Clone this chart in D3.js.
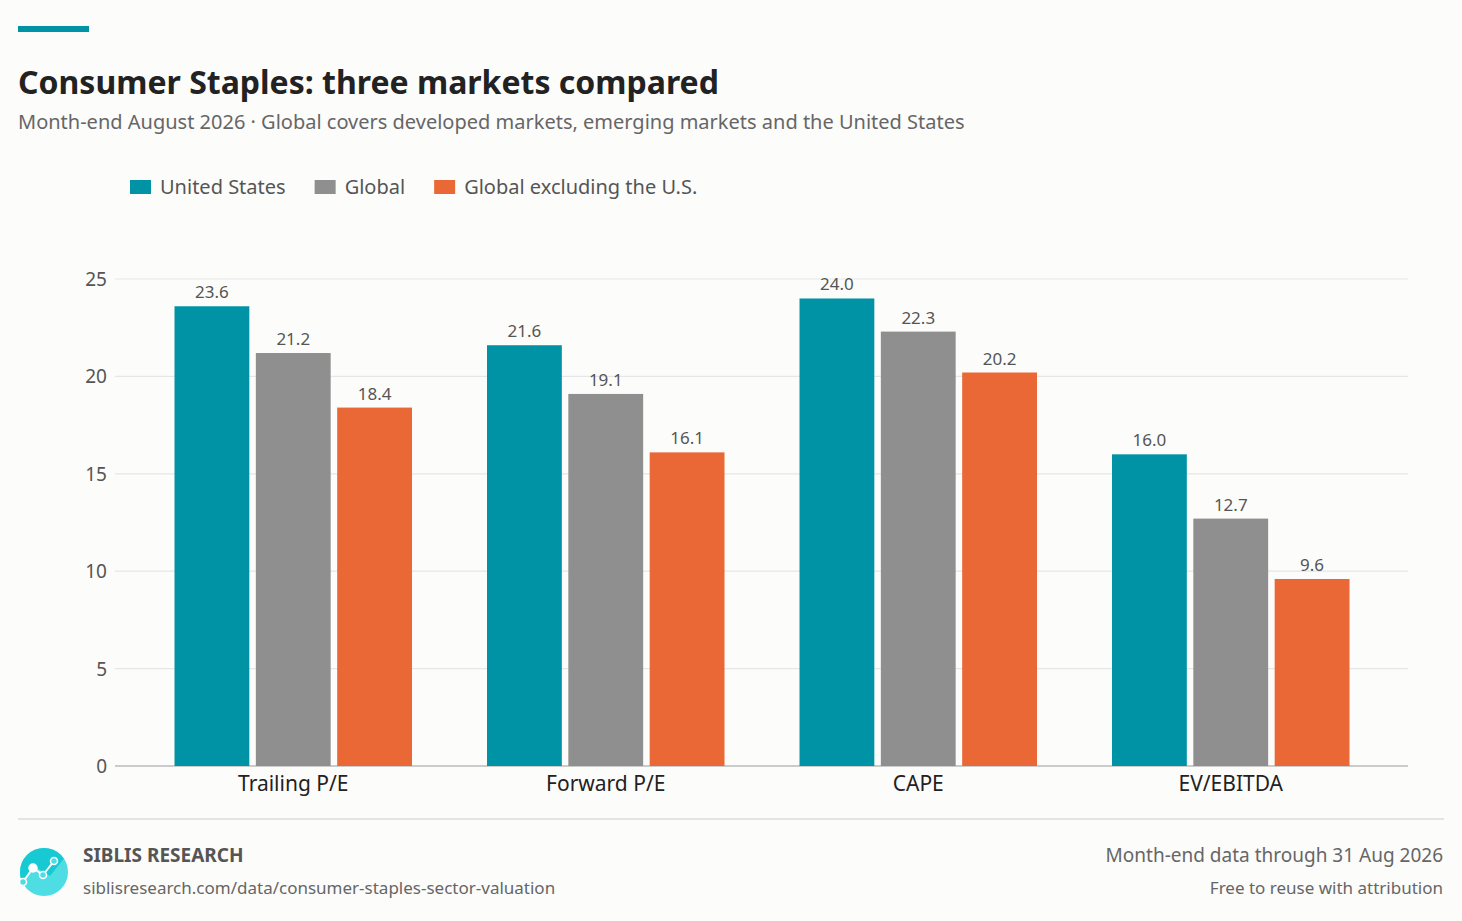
<!DOCTYPE html><html><head><meta charset="utf-8"><script src="https://cdn.jsdelivr.net/npm/d3@7"></script>
<style>body{margin:0;background:#fcfcfb;font-family:"Noto Sans",Roboto,sans-serif}</style></head><body><svg id="c" width="1462" height="921"></svg>
<script>
const categories=["Trailing P/E","Forward P/E","CAPE","EV/EBITDA"];
const seriesNames=["United States","Global","Global excluding the U.S."];
const usValues=[23.6,21.6,24.0,16.0];
const globalValues=[21.2,19.1,22.3,12.7];
const exUsValues=[18.4,16.1,20.2,9.6];
const yTicks=[0,5,10,15,20,25];
const colors=["#0093a6","#8f8f8f","#ea6835"];
const series=[usValues,globalValues,exUsValues];
const svg=d3.select("#c");
svg.append("rect").attr("width",1462).attr("height",921).attr("fill","#fcfcfb");
svg.append("rect").attr("x",18).attr("y",26).attr("width",71).attr("height",6).attr("fill","#0093a6");
svg.append("text").attr("x",18).attr("y",94).text("Consumer Staples: three markets compared").attr("font-size",32).attr("font-weight",700).attr("fill","#222");
svg.append("text").attr("x",18).attr("y",129).text("Month-end August 2026 · Global covers developed markets, emerging markets and the United States").attr("font-size",20).attr("fill","#666");
// legend
let lx=130;
seriesNames.forEach((n,i)=>{const g=svg.append("g");
g.append("rect").attr("x",lx).attr("y",180).attr("width",21).attr("height",14).attr("fill",colors[i]);
const t=g.append("text").attr("x",lx+30).attr("y",194).text(n).attr("font-size",20).attr("fill","#555");
lx+=30+t.node().getComputedTextLength()+29;});
const y=d3.scaleLinear().domain([0,25]).range([766,279]);
const x0=d3.scaleBand().domain(categories).range([137,1387]).paddingInner(0.24).paddingOuter(0.12);
const x1=d3.scaleBand().domain(d3.range(3)).range([0,x0.bandwidth()]).paddingInner(0.08);
const grid=svg.append("g");
yTicks.forEach(t=>{grid.append("line").attr("x1",115).attr("x2",1408).attr("y1",y(t)).attr("y2",y(t)).attr("stroke",t===0?"#bbb":"#e6e6e6").attr("stroke-width",t===0?1.5:1.2);
grid.append("text").attr("x",107).attr("y",y(t)+7).attr("text-anchor","end").text(t).attr("font-size",19).attr("fill","#555");});
categories.forEach((c,ci)=>{series.forEach((s,si)=>{const bx=x0(c)+x1(si);
svg.append("rect").attr("x",bx).attr("y",y(s[ci])).attr("width",x1.bandwidth()).attr("height",y(0)-y(s[ci])).attr("fill",colors[si]);
svg.append("text").attr("x",bx+x1.bandwidth()/2).attr("y",y(s[ci])-8).attr("text-anchor","middle").text(s[ci].toFixed(1)).attr("font-size",17).attr("fill","#555");});
svg.append("text").attr("x",x0(c)+x0.bandwidth()/2).attr("y",791).attr("text-anchor","middle").text(c).attr("font-size",21).attr("fill","#222");});
svg.append("line").attr("x1",18).attr("x2",1444).attr("y1",819).attr("y2",819).attr("stroke","#ddd").attr("stroke-width",1.5);
// logo
const lg=svg.append("g");
lg.append("clipPath").attr("id","cp").append("circle").attr("cx",44).attr("cy",872).attr("r",24);
lg.append("circle").attr("cx",44).attr("cy",872).attr("r",24).attr("fill","#4ddde3");
lg.append("path").attr("d","M14,885 L37,868 L50,876 L66,856 L66,840 L14,840Z").attr("fill","#17c9d2").attr("clip-path","url(#cp)");
const pts=[[23,882],[33,868],[43,875],[54,861]];
lg.append("path").attr("d",d3.line()(pts)).attr("stroke","#fff").attr("stroke-width",2).attr("fill","none");
pts.forEach((p,i)=>lg.append("circle").attr("cx",p[0]).attr("cy",p[1]).attr("r",i==1?4:3.5).attr("fill",i==1?"#fff":"#4ddde3").attr("stroke","#fff").attr("stroke-width",1.5));
svg.append("text").attr("x",83).attr("y",862).text("SIBLIS RESEARCH").attr("font-size",19).attr("font-weight",700).attr("fill","#555");
svg.append("text").attr("x",83).attr("y",894).text("siblisresearch.com/data/consumer-staples-sector-valuation").attr("font-size",17).attr("fill","#666");
svg.append("text").attr("x",1443).attr("y",862).attr("text-anchor","end").text("Month-end data through 31 Aug 2026").attr("font-size",19).attr("fill","#666");
svg.append("text").attr("x",1443).attr("y",894).attr("text-anchor","end").text("Free to reuse with attribution").attr("font-size",17).attr("fill","#666");
</script></body></html>
